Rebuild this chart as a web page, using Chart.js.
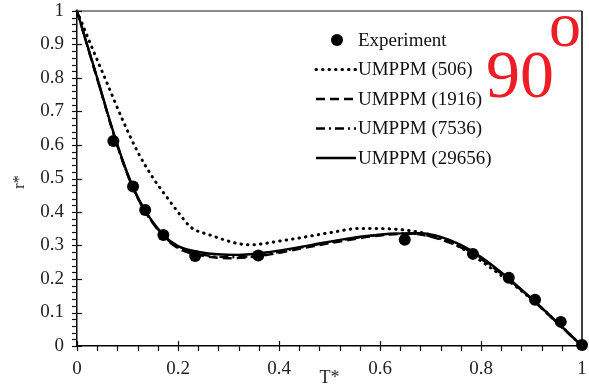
<!DOCTYPE html>
<html>
<head>
<meta charset="utf-8">
<script src="https://cdn.jsdelivr.net/npm/chart.js@4.4.1/dist/chart.umd.min.js"></script>
<style>
  html, body { margin: 0; padding: 0; background: #fff; }
  #wrap { width: 589px; height: 390px; position: relative; }
</style>
</head>
<body>
<div id="wrap"><canvas id="rchart"></canvas></div>
<script>
// Measured values: dimensionless time T* vs r*
const expT = [0.072, 0.111, 0.135, 0.171, 0.234, 0.359, 0.649, 0.784, 0.855, 0.907, 0.958, 1.0];
const expR = [0.612, 0.476, 0.406, 0.331, 0.269, 0.270, 0.317, 0.275, 0.204, 0.138, 0.072, 0.003];

// UMPPM (506)
const t506 = [0, 0.03, 0.06, 0.09, 0.12, 0.15, 0.18, 0.205, 0.225, 0.26, 0.343, 0.4, 0.442, 0.5, 0.561, 0.661, 0.74, 0.825, 0.9, 0.95, 1];
const r506 = [1, 0.89, 0.783, 0.676, 0.58, 0.503, 0.44, 0.39, 0.355, 0.333, 0.302, 0.313, 0.323, 0.338, 0.351, 0.344, 0.31, 0.227, 0.14, 0.072, 0];

// UMPPM (1916)
const t1916 = [0, 0.02, 0.045, 0.07, 0.09, 0.111, 0.135, 0.171, 0.2, 0.24, 0.3, 0.36, 0.44, 0.52, 0.6, 0.66, 0.72, 0.76, 0.8, 0.85, 0.9, 0.95, 1];
const r1916 = [1, 0.898, 0.772, 0.645, 0.553, 0.471, 0.401, 0.328, 0.292, 0.272, 0.262, 0.268, 0.29, 0.312, 0.33, 0.335, 0.318, 0.294, 0.26, 0.204, 0.14, 0.07, 0];

// UMPPM (7536)
const t7536 = [0, 0.02, 0.045, 0.07, 0.09, 0.111, 0.135, 0.171, 0.2, 0.24, 0.3, 0.36, 0.44, 0.52, 0.6, 0.66, 0.72, 0.76, 0.8, 0.85, 0.9, 0.95, 1];
const r7536 = [1, 0.899, 0.773, 0.646, 0.554, 0.472, 0.402, 0.33, 0.294, 0.275, 0.265, 0.27, 0.293, 0.315, 0.332, 0.336, 0.32, 0.296, 0.262, 0.205, 0.141, 0.071, 0];

// UMPPM (29656)
const t29656 = [0, 0.02, 0.045, 0.07, 0.09, 0.111, 0.135, 0.171, 0.2, 0.244, 0.317, 0.383, 0.462, 0.542, 0.62, 0.68, 0.72, 0.76, 0.8, 0.85, 0.9, 0.95, 1];
const r29656 = [1, 0.9, 0.775, 0.648, 0.556, 0.474, 0.404, 0.332, 0.298, 0.28, 0.272, 0.281, 0.301, 0.322, 0.335, 0.337, 0.326, 0.302, 0.266, 0.208, 0.142, 0.072, 0];

const xTicks = [0, 0.2, 0.4, 0.6, 0.8, 1];
const yTicks = [0, 0.1, 0.2, 0.3, 0.4, 0.5, 0.6, 0.7, 0.8, 0.9, 1];
const xTickLabels = ['0', '0.2', '0.4', '0.6', '0.8', '1'];
const yTickLabels = ['0', '0.1', '0.2', '0.3', '0.4', '0.5', '0.6', '0.7', '0.8', '0.9', '1'];

const SERIF = '"Liberation Serif", "Times New Roman", serif';

function zip(ts, rs) {
  return ts.map((t, i) => ({ x: t, y: rs[i] }));
}

function lineSet(label, ts, rs, dash, width) {
  return {
    label: label,
    data: zip(ts, rs),
    showLine: true,
    borderColor: '#000',
    borderWidth: width,
    borderDash: dash,
    borderCapStyle: dash.length && dash[0] < 1 ? 'round' : 'butt',
    pointRadius: 0,
    cubicInterpolationMode: 'monotone',
    clip: false
  };
}

// minor/major tick marks, frame, axis titles, legend and the angle tag
const decorations = {
  id: 'decorations',
  afterDraw(chart) {
    const ctx = chart.ctx;
    const xs = chart.scales.x;
    const ys = chart.scales.y;
    const area = chart.chartArea;
    ctx.save();

    // frame: grey top, black right
    ctx.lineWidth = 1.5;
    ctx.strokeStyle = '#666';
    ctx.beginPath();
    ctx.moveTo(area.left, area.top);
    ctx.lineTo(area.right, area.top);
    ctx.stroke();
    ctx.strokeStyle = '#000';
    ctx.beginPath();
    ctx.moveTo(area.right, area.top);
    ctx.lineTo(area.right, area.bottom);
    ctx.stroke();

    ctx.lineWidth = 1.2;
    ctx.strokeStyle = '#111';
    // y ticks every 0.02, major every 0.1
    for (let i = 0; i <= 50; i++) {
      const py = Math.round(ys.getPixelForValue(i * 0.02)) + 0.5;
      const major = i % 5 === 0;
      ctx.beginPath();
      ctx.moveTo(area.left - 5, py);
      ctx.lineTo(area.left + (major ? 5 : 0), py);
      ctx.stroke();
    }
    // x ticks every 0.04, major every 0.2
    for (let i = 0; i <= 25; i++) {
      const px = Math.round(xs.getPixelForValue(i * 0.04)) + 0.5;
      const major = i % 5 === 0;
      ctx.beginPath();
      ctx.moveTo(px, area.bottom + 5);
      ctx.lineTo(px, area.bottom - (major ? 5 : 0));
      ctx.stroke();
    }

    // axis titles
    ctx.fillStyle = '#222';
    ctx.font = '18px ' + SERIF;
    ctx.textAlign = 'center';
    ctx.textBaseline = 'middle';
    ctx.fillText('T*', (area.left + area.right) / 2, 378);
    ctx.save();
    ctx.translate(20, 182);
    ctx.rotate(-Math.PI / 2);
    ctx.font = '16px ' + SERIF;
    ctx.fillText('r*', 0, 0);
    ctx.restore();

    // legend inside the plot
    ctx.textAlign = 'left';
    ctx.font = '19px ' + SERIF;
    ctx.fillStyle = '#111';
    chart.data.datasets.forEach((ds, i) => {
      const cy = 40 + i * 29.5;
      if (ds.showLine) {
        ctx.strokeStyle = '#000';
        ctx.lineWidth = ds.borderWidth;
        ctx.setLineDash(ds.borderDash || []);
        ctx.lineCap = ds.borderCapStyle;
        ctx.beginPath();
        ctx.moveTo(316, cy);
        ctx.lineTo(356, cy);
        ctx.stroke();
        ctx.setLineDash([]);
        ctx.lineCap = 'butt';
      } else {
        ctx.fillStyle = '#000';
        ctx.beginPath();
        ctx.arc(337, cy, ds.pointRadius, 0, Math.PI * 2);
        ctx.fill();
        ctx.fillStyle = '#111';
      }
      ctx.fillText(ds.label, 358, cy + 1);
    });

    // angle tag
    ctx.fillStyle = '#ee1c24';
    ctx.font = '68px ' + SERIF;
    ctx.textBaseline = 'alphabetic';
    ctx.fillText('90', 486, 97);
    ctx.font = '64px ' + SERIF;
    ctx.fillText('o', 549, 46);

    ctx.restore();
  }
};

const chart = new Chart(document.getElementById('rchart'), {
  type: 'scatter',
  data: {
    datasets: [
      {
        label: 'Experiment',
        data: zip(expT, expR),
        showLine: false,
        pointRadius: 6,
        pointBackgroundColor: '#000',
        pointBorderColor: '#000',
        pointBorderWidth: 0,
        clip: false
      },
      lineSet('UMPPM (506)', t506, r506, [0.5, 6], 3),
      lineSet('UMPPM (1916)', t1916, r1916, [9, 5], 2.4),
      lineSet('UMPPM (7536)', t7536, r7536, [9, 4, 2, 4], 2.4),
      lineSet('UMPPM (29656)', t29656, r29656, [], 2.4)
    ]
  },
  options: {
    responsive: true,
    maintainAspectRatio: false,
    animation: false,
    layout: { padding: { left: 0, right: 7, top: 11, bottom: 0 } },
    plugins: {
      legend: { display: false },
      tooltip: { enabled: false }
    },
    scales: {
      x: {
        type: 'linear',
        min: 0,
        max: 1,
        afterBuildTicks: (scale) => { scale.ticks = xTicks.map(v => ({ value: v })); },
        afterFit: (scale) => {
          scale.height = 44;
          scale.paddingLeft = 0;
          scale.paddingRight = 0;
        },
        grid: { display: false, drawTicks: false },
        border: { display: true, color: '#000', width: 1.5 },
        ticks: {
          padding: 12,
          color: '#222',
          font: { family: SERIF, size: 19 },
          maxRotation: 0,
          callback: (v, i) => xTickLabels[i]
        }
      },
      y: {
        type: 'linear',
        min: 0,
        max: 1,
        afterBuildTicks: (scale) => { scale.ticks = yTicks.map(v => ({ value: v })); },
        afterFit: (scale) => {
          scale.width = 77;
          scale.paddingTop = 0;
          scale.paddingBottom = 0;
        },
        grid: { display: false, drawTicks: false },
        border: { display: true, color: '#000', width: 1.5 },
        ticks: {
          padding: 13,
          color: '#222',
          font: { family: SERIF, size: 19 },
          callback: (v, i) => yTickLabels[i]
        }
      }
    }
  },
  plugins: [decorations]
});
</script>
</body>
</html>
